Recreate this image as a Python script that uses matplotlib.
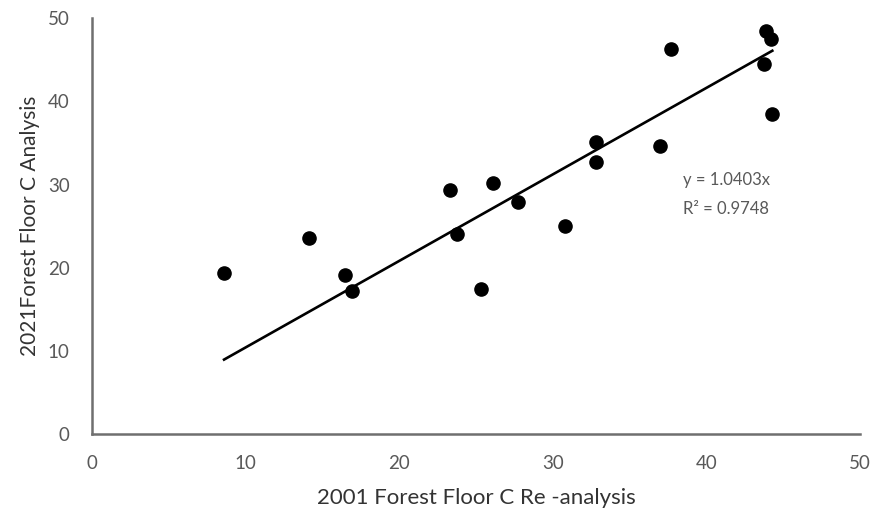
import matplotlib.pyplot as plt
import numpy as np

plt.rcParams['font.family'] = ['Lato', 'DejaVu Sans']

# === DATA ===
x_2001 = [8.6, 14.1, 16.5, 16.9, 23.3, 23.8, 25.3, 26.1, 27.75, 30.8,
          32.8, 32.8, 37.0, 37.7, 43.9, 44.2, 43.75, 44.3]
y_2021 = [19.35, 23.6, 19.1, 17.2, 29.3, 24.1, 17.4, 30.2, 27.85, 25.0,
          35.1, 32.7, 34.65, 46.3, 48.5, 47.5, 44.5, 38.5]
slope = 1.0403
r2 = 0.9748
ticks = [0, 10, 20, 30, 40, 50]

grey = '#595959'

fig = plt.figure(figsize=(8.81, 5.2), dpi=100)
ax = fig.add_axes([0.1044, 0.1654, 0.8716, 0.7996])

ax.scatter(x_2001, y_2021, s=90, color='black', zorder=3)

# linear trend line through origin, over the data range
xl = np.array([min(x_2001), max(x_2001)])
ax.plot(xl, slope * xl, color='black', lw=1.9, zorder=2)

# trend line equation label
ax.text(38.5, 30.6, f"y = {slope:.4f}x", fontsize=12, color=grey, va='center', ha='left')
ax.text(38.5, 27.0, f"R² = {r2:.4f}", fontsize=12, color=grey, va='center', ha='left')

ax.set_xlim(0, 50)
ax.set_ylim(0, 50)
ax.set_xticks(ticks)
ax.set_yticks(ticks)
ax.tick_params(length=0, labelsize=13.5, labelcolor=grey)
ax.tick_params(axis='x', pad=15)
ax.tick_params(axis='y', pad=16)

for s in ['top', 'right']:
    ax.spines[s].set_visible(False)
for s in ['left', 'bottom']:
    ax.spines[s].set_color('#6f6f6f')
    ax.spines[s].set_linewidth(1.8)

ax.set_xlabel("2001 Forest Floor C Re -analysis", fontsize=16, color='#333333', labelpad=12)
ax.set_ylabel("2021Forest Floor C Analysis", fontsize=15, color='#333333', labelpad=6)

plt.savefig("out.png", dpi=100)
